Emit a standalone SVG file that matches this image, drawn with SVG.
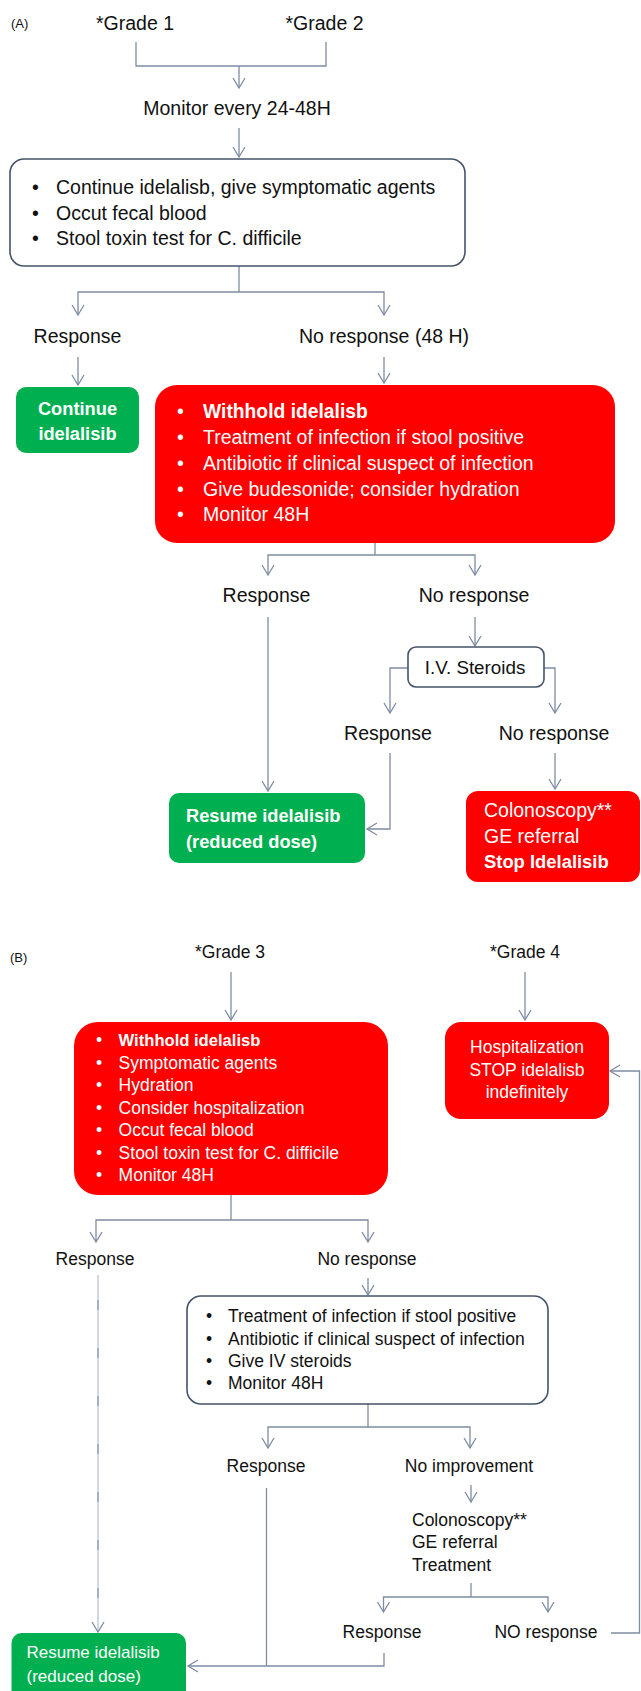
<svg xmlns="http://www.w3.org/2000/svg" width="641" height="1691" viewBox="0 0 641 1691">
<defs>
<marker id="ah" markerUnits="userSpaceOnUse" markerWidth="16" markerHeight="16" viewBox="-12 -8 14 16" refX="0" refY="0" orient="auto">
<path d="M-10,-6 L0,0 L-10,6" fill="none" stroke="#7d8ca3" stroke-width="1.3"/>
</marker>
<style>
text{font-family:"Liberation Sans",Arial,sans-serif;fill:#111}
.a{font-size:19.5px}
.b{font-size:17.5px}
.c{text-anchor:middle}
.w{fill:#fff}
.bd{font-weight:bold}
.con path{fill:none;stroke:#7d8ca3;stroke-width:1.3}
.con path.m{marker-end:url(#ah)}
.con path.faint{stroke:#bcc5d2}
.con path.dash{stroke:#8e9bb0;stroke-dasharray:10 38}
.wb{fill:#fff;stroke:#44546a;stroke-width:1.6}
.red{fill:#ff0000}
.grn{fill:#00b050}
</style>
</defs>
<rect width="641" height="1691" fill="#fff"/>

<g id="connectors" class="con">
<path d="M136,42 V66 H326 V42"/>
<path class="m" d="M239,66 V88"/>
<path class="m" d="M239,128 V157"/>
<path d="M239,266 V292"/>
<path class="m" d="M239,292 H78 V315"/>
<path class="m" d="M239,292 H384 V315"/>
<path class="m" d="M78,357 V385"/>
<path class="m" d="M384,357 V383"/>
<path d="M375,543 V555"/>
<path class="m" d="M375,555 H268 V575"/>
<path class="m" d="M375,555 H475 V575"/>
<path class="m" d="M268,617 V791"/>
<path class="m" d="M475,617 V646"/>
<path class="m" d="M408,668 H390 V713"/>
<path class="m" d="M544,668 H555 V713"/>
<path class="m" d="M390,753 V829 H367"/>
<path class="m" d="M555,753 V789"/>
<path class="m" d="M231,972 V1020"/>
<path class="m" d="M525,972 V1020"/>
<path d="M231,1195 V1220"/>
<path class="m" d="M231,1220 H96 V1242"/>
<path class="m" d="M231,1220 H368 V1242"/>
<path class="m faint" d="M98,1275 V1632"/>
<path class="dash" d="M98,1300 V1610"/>
<path class="m" d="M368,1278 V1295"/>
<path d="M368,1404 V1427"/>
<path class="m" d="M368,1427 H268 V1448"/>
<path class="m" d="M368,1427 H470 V1448"/>
<path class="m" d="M471,1485 V1502"/>
<path d="M471,1583 V1597"/>
<path class="m" d="M471,1597 H383.5 V1612"/>
<path class="m" d="M471,1597 H548 V1612"/>
<path class="m" d="M611,1633 H639.5 V1071 H610"/>
<path d="M266.5,1488 V1666"/>
<path class="m" d="M384,1653 V1666 H188"/>
</g>

<text x="11" y="28" style="font-size:13px">(A)</text>
<g id="grade1"><text class="a c" x="135" y="30">*Grade 1</text></g>
<g id="grade2"><text class="a c" x="324.5" y="30">*Grade 2</text></g>
<g id="monitorA"><text class="a c" x="237" y="115">Monitor every 24-48H</text></g>

<g id="boxA1">
<rect class="wb" x="10" y="159" width="455" height="107" rx="14"/>
<text class="a" x="32" y="194">•</text><text class="a" x="56" y="194">Continue idelalisb, give symptomatic agents</text>
<text class="a" x="32" y="219.5">•</text><text class="a" x="56" y="219.5">Occut fecal blood</text>
<text class="a" x="32" y="245">•</text><text class="a" x="56" y="245">Stool toxin test for C. difficile</text>
</g>

<g id="respA1"><text class="a c" x="77.5" y="343">Response</text></g>
<g id="noRespA1"><text class="a c" x="384" y="343">No response (48 H)</text></g>

<g id="continueA">
<rect class="grn" x="16" y="387" width="123" height="66" rx="10"/>
<text class="w bd c" x="77.5" y="415" style="font-size:18.3px">Continue</text>
<text class="w bd c" x="77.5" y="440" style="font-size:18.3px">idelalisib</text>
</g>

<g id="withholdA">
<rect class="red" x="155" y="385" width="460" height="158" rx="22"/>
<text class="a w" x="177" y="418">•</text><text class="w bd" x="203" y="418" style="font-size:19.3px">Withhold idelalisb</text>
<text class="a w" x="177" y="444">•</text><text class="a w" x="203" y="444">Treatment of infection if stool positive</text>
<text class="a w" x="177" y="470">•</text><text class="a w" x="203" y="470">Antibiotic if clinical suspect of infection</text>
<text class="a w" x="177" y="496">•</text><text class="a w" x="203" y="496">Give budesonide; consider hydration</text>
<text class="a w" x="177" y="521">•</text><text class="a w" x="203" y="521">Monitor 48H</text>
</g>

<g id="respA2"><text class="a c" x="266.5" y="602">Response</text></g>
<g id="noRespA2"><text class="a c" x="474" y="602">No response</text></g>

<g id="ivSteroids">
<rect class="wb" x="408" y="647" width="136" height="40" rx="8"/>
<text class="c" x="475" y="674" style="font-size:18.8px">I.V. Steroids</text>
</g>

<g id="respA3"><text class="a c" x="388" y="740">Response</text></g>
<g id="noRespA3"><text class="a c" x="554" y="740">No response</text></g>

<g id="resumeA">
<rect class="grn" x="169" y="793" width="196" height="70" rx="10"/>
<text class="w bd" x="186" y="822" style="font-size:18.3px">Resume idelalisib</text>
<text class="w bd" x="186" y="848" style="font-size:18.3px">(reduced dose)</text>
</g>

<g id="stopA">
<rect class="red" x="466" y="791" width="174" height="91" rx="12"/>
<text class="a w" x="484" y="817">Colonoscopy**</text>
<text class="a w" x="484" y="843">GE referral</text>
<text class="w bd" x="484" y="868" style="font-size:18.4px">Stop Idelalisib</text>
</g>

<text x="10" y="962" style="font-size:13px">(B)</text>
<g id="grade3"><text class="b c" x="230" y="958">*Grade 3</text></g>
<g id="grade4"><text class="b c" x="525" y="958">*Grade 4</text></g>

<g id="withholdB">
<rect class="red" x="74" y="1022" width="314" height="173" rx="24"/>
<text class="b w" x="96" y="1046">•</text><text class="w bd" x="118.6" y="1046" style="font-size:16.6px">Withhold idelalisb</text>
<text class="b w" x="96" y="1069">•</text><text class="b w" x="118.6" y="1069">Symptomatic agents</text>
<text class="b w" x="96" y="1091">•</text><text class="b w" x="118.6" y="1091">Hydration</text>
<text class="b w" x="96" y="1114">•</text><text class="b w" x="118.6" y="1114">Consider hospitalization</text>
<text class="b w" x="96" y="1136">•</text><text class="b w" x="118.6" y="1136">Occut fecal blood</text>
<text class="b w" x="96" y="1159">•</text><text class="b w" x="118.6" y="1159">Stool toxin test for C. difficile</text>
<text class="b w" x="96" y="1181">•</text><text class="b w" x="118.6" y="1181">Monitor 48H</text>
</g>

<g id="hospB">
<rect class="red" x="445" y="1022" width="164" height="97" rx="16"/>
<text class="b w c" x="527" y="1053">Hospitalization</text>
<text class="b w c" x="527" y="1076">STOP idelalisb</text>
<text class="b w c" x="527" y="1098">indefinitely</text>
</g>

<g id="respB1"><text class="b c" x="95" y="1265">Response</text></g>
<g id="noRespB1"><text class="b c" x="367" y="1265">No response</text></g>

<g id="boxB2">
<rect class="wb" x="187" y="1296" width="361" height="108" rx="14"/>
<text class="b" x="206" y="1322">•</text><text class="b" x="228" y="1322">Treatment of infection if stool positive</text>
<text class="b" x="206" y="1345">•</text><text class="b" x="228" y="1345">Antibiotic if clinical suspect of infection</text>
<text class="b" x="206" y="1367">•</text><text class="b" x="228" y="1367">Give IV steroids</text>
<text class="b" x="206" y="1389">•</text><text class="b" x="228" y="1389">Monitor 48H</text>
</g>

<g id="respB2"><text class="b c" x="266" y="1472">Response</text></g>
<g id="noImpB"><text class="b c" x="469" y="1472">No improvement</text></g>

<g id="colonB">
<text class="b" x="412" y="1526">Colonoscopy**</text>
<text class="b" x="412" y="1548">GE referral</text>
<text class="b" x="412" y="1571">Treatment</text>
</g>

<g id="respB3"><text class="b c" x="382" y="1638">Response</text></g>
<g id="noRespB3"><text class="b c" x="546" y="1638">NO response</text></g>

<g id="resumeB">
<rect class="grn" x="11.5" y="1633" width="174.5" height="80" rx="10"/>
<text class="w" x="26.5" y="1658" style="font-size:17px">Resume idelalisib</text>
<text class="w" x="26.5" y="1682" style="font-size:17px">(reduced dose)</text>
</g>
</svg>
